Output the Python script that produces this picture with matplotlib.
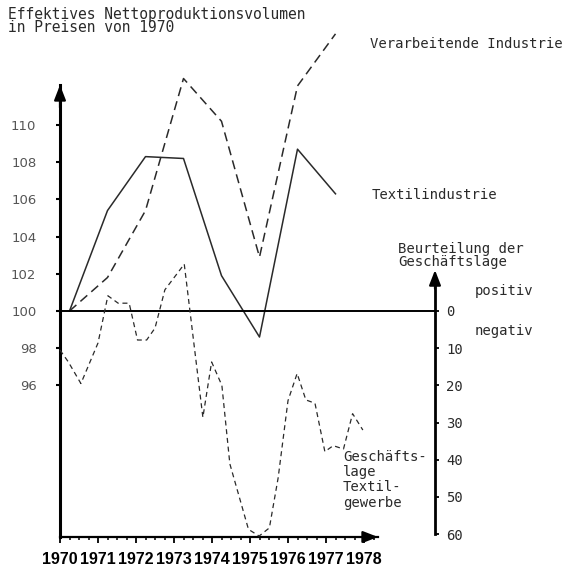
import matplotlib.pyplot as plt
from matplotlib.ticker import FixedLocator
from matplotlib.transforms import blended_transform_factory

# Effektives Nettoproduktionsvolumen (1970 = 100), Jahreswerte
years = [1970, 1971, 1972, 1973, 1974, 1975, 1976, 1977]
textil = [100.0, 105.4, 108.3, 108.2, 101.9, 98.6, 108.7, 106.3]
verarbeitend = [100.0, 101.8, 105.4, 112.5, 110.2, 102.9, 112.1, 114.9]

# Beurteilung der Geschaeftslage Textilgewerbe (Saldo, + positiv / - negativ)
lage_t = [1970.00, 1970.22, 1970.55, 1971.00, 1971.26, 1971.53, 1971.82,
          1972.04, 1972.28, 1972.50, 1972.76, 1973.27, 1973.76, 1973.99,
          1974.26, 1974.47, 1974.96, 1975.24, 1975.51, 1975.74, 1976.00,
          1976.24, 1976.47, 1976.71, 1976.97, 1977.19, 1977.46, 1977.70,
          1977.97]
lage = [-10.5, -13.7, -19.5, -8.6, 4.1, 2.1, 2.1,
        -7.8, -7.8, -4.6, 5.7, 12.6, -28.6, -13.7,
        -20.0, -41.1, -58.7, -60.5, -58.3, -44.9, -24.1,
        -16.8, -23.9, -24.8, -37.8, -36.2, -37.1, -27.6,
        -32.0]

left_ticks = [96, 98, 100, 102, 104, 106, 108, 110]
right_ticks = [0, -10, -20, -30, -40, -50, -60]
right_labels = ['0', '10', '20', '30', '40', '50', '60']
year_ticks = list(range(1970, 1979))

W, H = 582, 567
mono = 'DejaVu Sans Mono'
ink = '#2a2a2a'

fig = plt.figure(figsize=(W / 100, H / 100), dpi=100)
ax = fig.add_axes([60 / W, (H - 537) / H, 318 / W, 452 / H])
ax.set_xlim(1970, 1970 + 318 / 38)
ax.set_ylim(100 - 226 / 18.6, 100 + 226 / 18.6)

for s in ['top', 'right']:
    ax.spines[s].set_visible(False)
ax.spines['left'].set_linewidth(2.2)
ax.spines['bottom'].set_linewidth(1.6)

ax.yaxis.set_major_locator(FixedLocator(left_ticks))
ax.tick_params(axis='y', direction='out', length=3, width=1.5, pad=14,
               labelsize=9.5, labelcolor='#555')
ax.xaxis.set_major_locator(FixedLocator(year_ticks))
ax.xaxis.set_minor_locator(FixedLocator([1970 + q / 4 for q in range(34)]))
ax.tick_params(axis='x', which='major', direction='out', length=4, width=1.3, pad=7)
ax.tick_params(axis='x', which='minor', direction='out', length=2.5, width=1.1)
ax.set_xticklabels([str(y) for y in year_ticks], family='Liberation Sans',
                   fontsize=11.5, fontweight='bold')

# axis arrows
arr = dict(arrowstyle='-|>,head_length=0.9,head_width=0.35', lw=1.6,
           color='k', shrinkA=0, shrinkB=0)
ax.annotate('', xy=(0, 1.0), xytext=(0, 0.95), xycoords='axes fraction',
            arrowprops=arr, annotation_clip=False)
ax.annotate('', xy=(1.0, 0), xytext=(0.95, 0), xycoords='axes fraction',
            arrowprops=arr, annotation_clip=False)

xoff = 0.25
ax.plot([y + xoff for y in years], textil, color=ink, lw=1.1, clip_on=False)
ax.plot([y + xoff for y in years], verarbeitend, color=ink, lw=1.1,
        dashes=(6, 3.5), clip_on=False)

# right axis (Beurteilung der Geschaeftslage)
ax2 = ax.twinx()
y0, y1 = ax.get_ylim()
ax2.set_ylim((y0 - 100) * 5, (y1 - 100) * 5)
rpos = (435 - 60) / 318
for s in ['top', 'left', 'bottom']:
    ax2.spines[s].set_visible(False)
ax2.spines['right'].set_position(('axes', rpos))
ax2.spines['right'].set_bounds(-60, 8)
ax2.spines['right'].set_linewidth(2.0)
ax2.yaxis.set_major_locator(FixedLocator(right_ticks))
ax2.set_yticklabels(right_labels, family=mono, fontsize=10, color=ink)
ax2.tick_params(axis='y', direction='out', length=3, width=1.3, pad=5)
rt = blended_transform_factory(ax2.transAxes, ax2.transData)
ax2.annotate('', xy=(rpos, 11), xytext=(rpos, 6), xycoords=rt,
             arrowprops=arr, annotation_clip=False)

# 100 / 0 line
ax2.plot([0, rpos], [0, 0], transform=rt, color='k', lw=1.4, clip_on=False)
ax2.plot(lage_t, lage, color=ink, lw=0.9, dashes=(4, 3), clip_on=False)


def label(x, y, s, size=10):
    fig.text(x / W, 1 - y / H, s, family=mono, fontsize=size, color=ink,
             va='center', ha='left', linespacing=1.1)


label(8, 14, 'Effektives Nettoproduktionsvolumen', 10.5)
label(8, 28, 'in Preisen von 1970', 10.5)
label(370, 44, 'Verarbeitende Industrie')
label(372, 195, 'Textilindustrie')
label(398, 249, 'Beurteilung der')
label(398, 262, 'Geschäftslage')
label(475, 291, 'positiv')
label(475, 331, 'negativ')
label(343, 457, 'Geschäfts-')
label(343, 472, 'lage')
label(343, 487, 'Textil-')
label(343, 503, 'gewerbe')

fig.savefig('out.png', dpi=100)
